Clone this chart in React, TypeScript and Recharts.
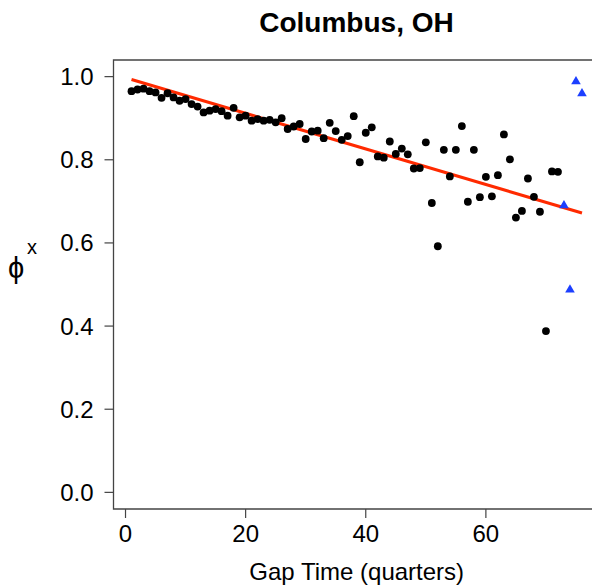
import React from 'react';
import { ComposedChart, Scatter, Line, XAxis, YAxis, ReferenceArea, Customized } from 'recharts';

// Gap time (quarters) and phi^x values
const blackT = [1,2,3,4,5,6,7,8,9,10,11,12,13,14,15,16,17,18,19,20,21,22,23,24,25,26,27,28,29,30,31,32,33,34,35,36,37,38,39,40,41,42,43,44,45,46,47,48,49,50,51,52,53,54,55,56,57,58,59,60,61,62,63,64,65,66,67,68,69,70,71,72];
const blackV = [0.965,0.969,0.971,0.965,0.962,0.949,0.960,0.950,0.942,0.946,0.934,0.928,0.914,0.918,0.922,0.917,0.906,0.925,0.902,0.906,0.894,0.898,0.894,0.896,0.890,0.900,0.874,0.880,0.886,0.850,0.868,0.870,0.852,0.889,0.869,0.848,0.857,0.905,0.794,0.865,0.878,0.808,0.805,0.844,0.814,0.827,0.813,0.779,0.780,0.842,0.696,0.592,0.824,0.760,0.824,0.881,0.699,0.824,0.710,0.759,0.712,0.763,0.861,0.801,0.661,0.677,0.755,0.711,0.675,0.388,0.772,0.771];
const blueT = [73, 74, 75, 76];
const blueV = [0.692, 0.489, 0.990, 0.961];
const fitT = [1, 76];
const fitV = [0.993, 0.672];

const xTicks = [0, 20, 40, 60];
const yTicks = [0, 0.2, 0.4, 0.6, 0.8, 1.0];
const xDomain = [-2, 79];
const yDomain = [-0.04, 1.04];

const blackData = blackT.map((t, i) => ({ t, v: blackV[i] }));
const blueData = blueT.map((t, i) => ({ t, v: blueV[i] }));
const fitData = fitT.map((t, i) => ({ t, v: fitV[i] }));

const FONT = '"Liberation Sans", Arial, Helvetica, sans-serif';
const BOX = '#444';

const Dot = (p: any) => <circle cx={p.cx} cy={p.cy} r={3.9} fill="#000" />;
const Tri = (p: any) => (
  <polygon
    points={`${p.cx},${p.cy - 4.8} ${p.cx - 4.8},${p.cy + 3.5} ${p.cx + 4.8},${p.cy + 3.5}`}
    fill="#1c3fff"
  />
);

const Texts = () => (
  <g>
    <text x={356.5} y={32} textAnchor="middle" fontFamily={FONT} fontSize={28} fontWeight="bold" fill="#000">
      Columbus, OH
    </text>
    <text x={356.7} y={580} textAnchor="middle" fontFamily={FONT} fontSize={24} fill="#000">
      Gap Time (quarters)
    </text>
    <text x={8} y={278} fontFamily={FONT} fontSize={29} fill="#000">
      ϕ
    </text>
    <text x={27} y={254} fontFamily={FONT} fontSize={20} fill="#000">
      x
    </text>
  </g>
);

export default function App() {
  return (
    <div style={{ position: 'absolute', left: 0, top: 0, width: 592, height: 586, overflow: 'hidden', background: '#fff' }}>
      <ComposedChart width={610} height={586} margin={{ top: 60, right: 10, bottom: 0, left: 0 }}>
        <XAxis
          type="number"
          dataKey="t"
          domain={xDomain}
          ticks={xTicks}
          allowDataOverflow
          height={77}
          tickSize={9}
          tickMargin={7}
          axisLine={false}
          tickLine={{ stroke: BOX, strokeWidth: 1.2 }}
          tick={{ fill: '#000', fontSize: 24, fontFamily: FONT }}
        />
        <YAxis
          type="number"
          dataKey="v"
          domain={yDomain}
          ticks={yTicks}
          allowDataOverflow
          width={113.5}
          tickSize={9}
          tickMargin={11}
          axisLine={false}
          tickLine={{ stroke: BOX, strokeWidth: 1.2 }}
          tick={{ fill: '#000', fontSize: 24, fontFamily: FONT }}
          tickFormatter={(v: number) => v.toFixed(1)}
        />
        <ReferenceArea x1={xDomain[0]} x2={xDomain[1]} y1={yDomain[0]} y2={yDomain[1]} fill="none" stroke={BOX} strokeWidth={1.3} ifOverflow="visible" />
        <Scatter data={blackData} dataKey="v" shape={Dot} isAnimationActive={false} />
        <Scatter data={blueData} dataKey="v" shape={Tri} isAnimationActive={false} />
        <Line data={fitData} dataKey="v" type="linear" stroke="#ff2a00" strokeWidth={3} dot={false} activeDot={false} isAnimationActive={false} />
        <Customized component={Texts} />
      </ComposedChart>
    </div>
  );
}
